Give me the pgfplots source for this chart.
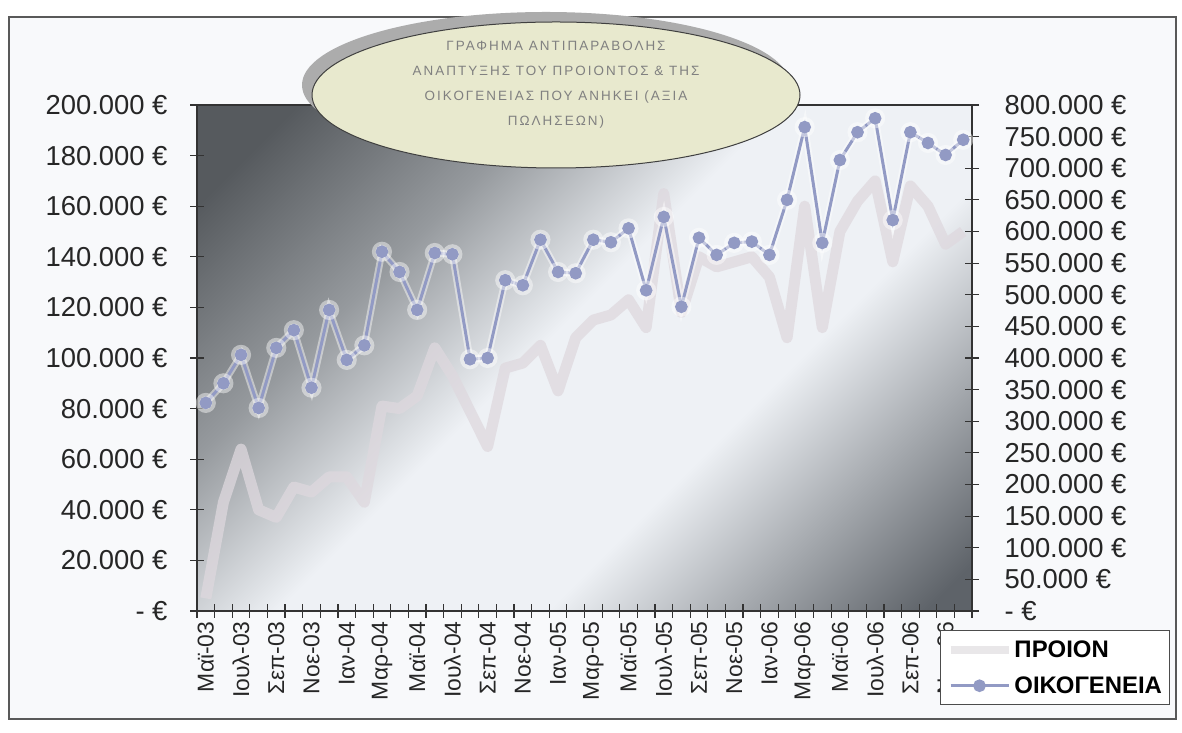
\documentclass[border=0pt]{standalone}
\usepackage{pgfplots}
\pgfplotsset{compat=1.18}
\usepackage{pgfplotstable}
\usepackage{fontspec}
\setmainfont{Liberation Sans}
\newfontfamily\titlefont[LetterSpace=15]{Liberation Sans}
\definecolor{famc}{RGB}{146,154,196}
\definecolor{prodc}{RGB}{222,216,222}
\definecolor{dkTL}{RGB}{86,90,94}
\definecolor{midTL}{RGB}{150,154,158}
\definecolor{dkBR}{RGB}{94,99,105}
\definecolor{ltbg}{RGB}{238,241,245}
\definecolor{ellfill}{RGB}{232,233,206}
\definecolor{framebg}{RGB}{248,249,251}
\pgfdeclareverticalshading{plotbg}{100bp}{color(0bp)=(dkBR); color(17bp)=(dkBR); color(38bp)=(ltbg); color(53bp)=(ltbg); color(66bp)=(midTL); color(80bp)=(dkTL); color(100bp)=(dkTL)}

\pgfplotstableread{
i prod fam
0 5000 329000
1 43000 360000
2 64000 405000
3 40000 321000
4 37000 416000
5 49000 444000
6 47000 353000
7 53000 476000
8 53000 397000
9 43000 420000
10 81000 568000
11 80000 536000
12 85000 476000
13 104000 566000
14 93000 564000
15 79000 398000
16 65000 400000
17 96000 523000
18 98000 515000
19 105000 587000
20 87000 536000
21 108000 534000
22 115000 587000
23 117000 583000
24 123000 605000
25 112000 507000
26 165000 623000
27 118000 481000
28 140000 590000
29 136000 563000
30 138000 582000
31 140000 584000
32 132000 563000
33 108000 650000
34 160000 765000
35 112000 582000
36 150000 713000
37 162000 757000
38 170000 779000
39 138000 618000
40 168000 757000
41 160000 740000
42 145000 721000
43 150000 745000
}\datatable

\begin{document}
\begin{tikzpicture}[x=1bp,y=1bp]
\useasboundingbox (0,0) rectangle (1182,733);
\fill[white] (0,0) rectangle (1182,733);
\draw[black!65, line width=1.2bp, fill=framebg] (9,14) rectangle (1176,716);

\begin{axis}[
  at={(197bp,122bp)}, anchor=south west,
  scale only axis, width=775bp, height=506bp,
  xmin=-0.5, xmax=43.5, ymin=0, ymax=200000,
  axis background/.style={shading=plotbg, shading angle=45},
  axis line style={black!80, line width=1.3bp},
  xtick pos=bottom, ytick pos=left,
  tick align=center,
  xtick={0,2,...,42},
  xticklabels={Μαϊ-03,Ιουλ-03,Σεπ-03,Νοε-03,Ιαν-04,Μαρ-04,Μαϊ-04,Ιουλ-04,Σεπ-04,Νοε-04,Ιαν-05,Μαρ-05,Μαϊ-05,Ιουλ-05,Σεπ-05,Νοε-05,Ιαν-06,Μαρ-06,Μαϊ-06,Ιουλ-06,Σεπ-06,Νοε-06},
  major x tick style={draw=none},
  minor xtick={-0.5,0.5,...,43.5},
  minor x tick style={black!80, line width=1.2bp},
  minor tick length=14bp,
  major tick length=14bp,
  ytick={0,20000,...,200000},
  yticklabels={- €,20.000 €,40.000 €,60.000 €,80.000 €,100.000 €,120.000 €,140.000 €,160.000 €,180.000 €,200.000 €},
  y tick style={black!80, line width=1.2bp},
  yticklabel style={font=\fontsize{27.5}{27.5}\selectfont, text=black!85, xshift=-19bp},
  xticklabel style={font=\fontsize{23}{23}\selectfont, text=black!85, rotate=90, anchor=east},
  scaled y ticks=false,
  clip=false,
]
\addplot[prodc, opacity=0.75, line width=11bp, line join=round] table[x=i,y=prod]{\datatable};
\end{axis}

\begin{axis}[
  at={(197bp,122bp)}, anchor=south west,
  scale only axis, width=775bp, height=506bp,
  xmin=-0.5, xmax=43.5, ymin=0, ymax=800000,
  axis x line=none, axis y line*=right,
  axis line style={black!80, line width=1.3bp},
  tick align=center, major tick length=14bp,
  ytick={0,50000,...,800000},
  yticklabels={- €,50.000 €,100.000 €,150.000 €,200.000 €,250.000 €,300.000 €,350.000 €,400.000 €,450.000 €,500.000 €,550.000 €,600.000 €,650.000 €,700.000 €,750.000 €,800.000 €},
  y tick style={black!80, line width=1.2bp},
  yticklabel style={font=\fontsize{27.5}{27.5}\selectfont, text=black!85, anchor=west, xshift=22bp},
  scaled y ticks=false,
  legend style={at={(0.9587,-0.0375)}, anchor=north west, draw=black!70, line width=1bp, fill=white,
    font=\bfseries\fontsize{24}{24}\selectfont, inner xsep=6bp, inner ysep=8bp, row sep=14bp,
    legend cell align=left},
  legend image code/.code={\draw[mark repeat=2, mark phase=2, #1] plot coordinates {(0bp,0bp) (29bp,0bp) (58bp,0bp)};},
]
\addlegendimage{prodc!85!black!40, line width=8bp, opacity=0.8}
\addlegendentry{ΠΡΟΙΟΝ}
\addplot[white, opacity=0.45, line width=7bp, mark=*, mark size=6.5bp, forget plot] table[x=i,y=fam]{\datatable};
\addplot[famc, line width=3bp, mark=*, mark size=4.8bp, mark options={fill=famc}] table[x=i,y=fam]{\datatable};
\addlegendentry{ΟΙΚΟΓΕΝΕΙΑ}
\end{axis}

\fill[gray!65] (546,648) ellipse [x radius=244, y radius=73];
\draw[black!75, line width=1bp, fill=ellfill] (556,638) ellipse [x radius=244, y radius=73];
\node[align=center, text=black!50, font=\titlefont\fontsize{13.5}{25}\selectfont] at (556,648.5)
  {ΓΡΑΦΗΜΑ ΑΝΤΙΠΑΡΑΒΟΛΗΣ\\ΑΝΑΠΤΥΞΗΣ ΤΟΥ ΠΡΟΙΟΝΤΟΣ \& ΤΗΣ\\ΟΙΚΟΓΕΝΕΙΑΣ ΠΟΥ ΑΝΗΚΕΙ (ΑΞΙΑ\\ΠΩΛΗΣΕΩΝ)};
\end{tikzpicture}
\end{document}
